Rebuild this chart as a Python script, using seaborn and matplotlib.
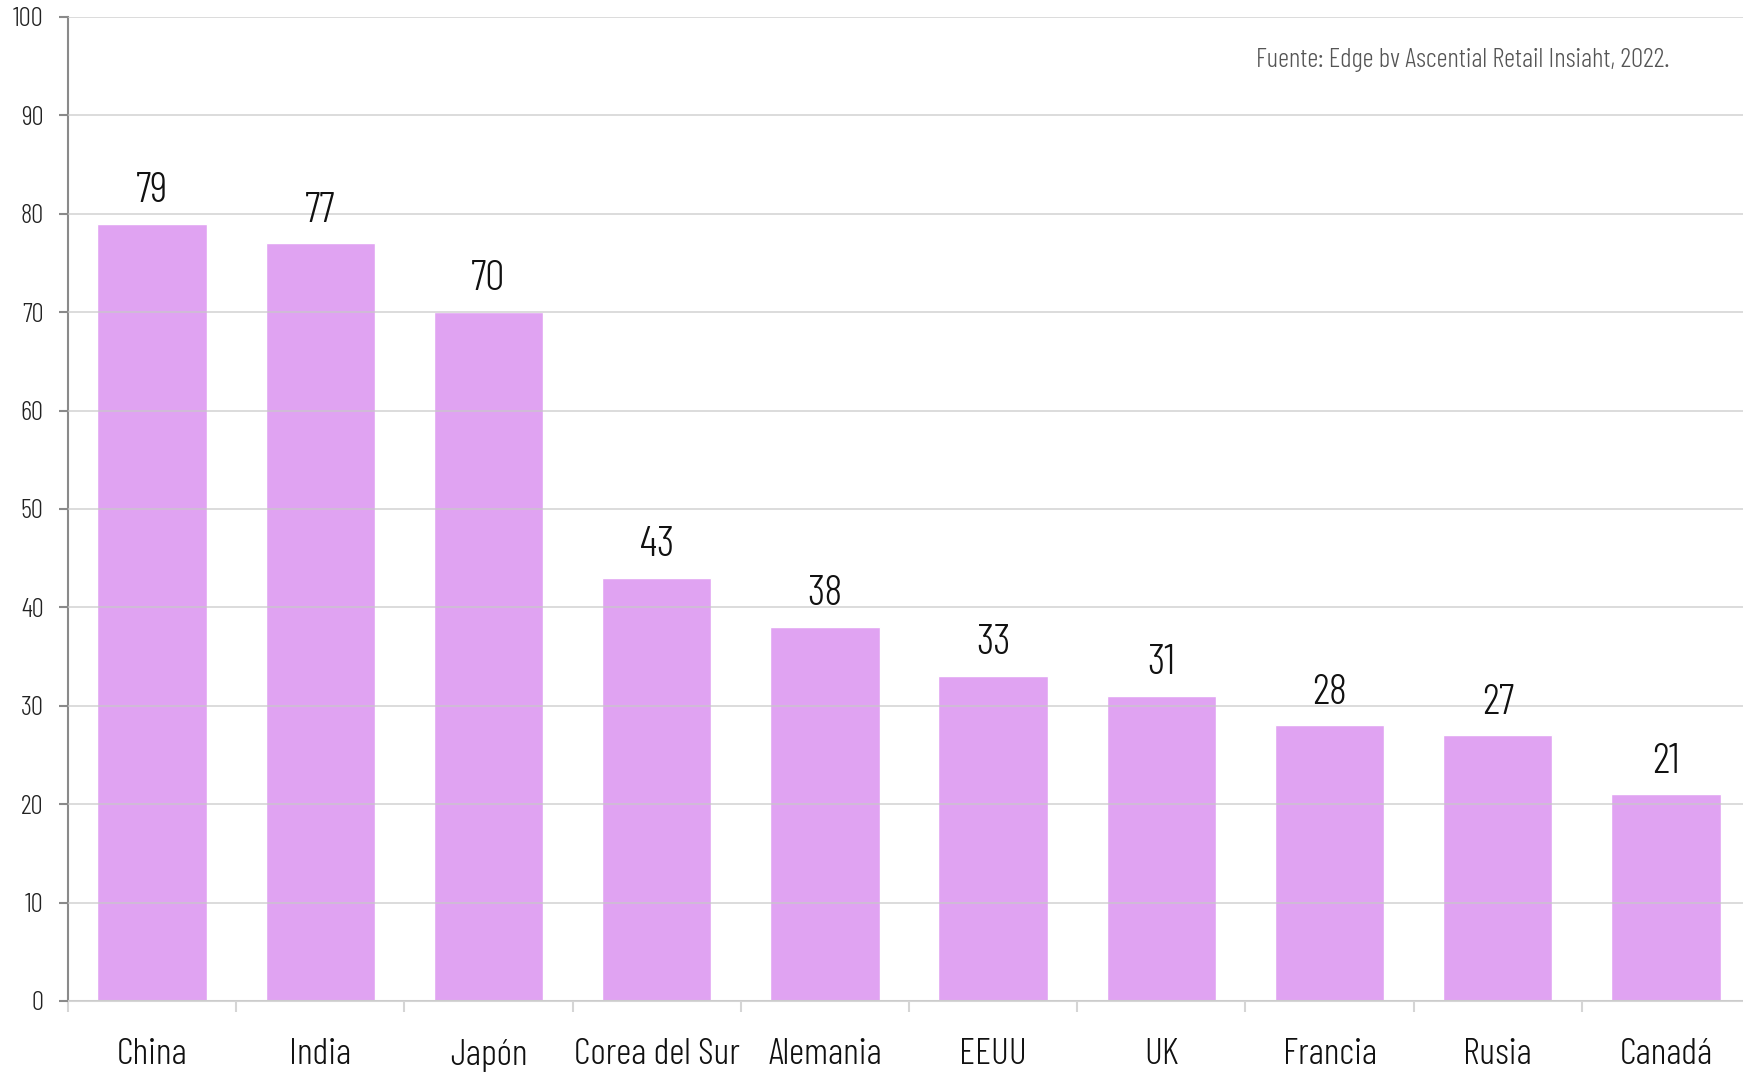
import matplotlib
matplotlib.use("Agg")
import matplotlib.pyplot as plt
import seaborn as sns
import pandas as pd

# datos
paises = ['China', 'India', 'Japón', 'Corea del Sur', 'Alemania', 'EEUU', 'UK', 'Francia', 'Rusia', 'Canadá']
valores = [79, 77, 70, 43, 38, 33, 31, 28, 27, 21]
y_ticks = [0, 10, 20, 30, 40, 50, 60, 70, 80, 90, 100]
fuente = 'Fuente: Edge bv Ascential Retail Insiaht, 2022.'

sns.set_theme(style='white')
plt.rcParams['font.family'] = ['Barlow Condensed', 'DejaVu Sans']
plt.rcParams['font.weight'] = 300

df = pd.DataFrame({'pais': paises, 'valor': valores})

fig = plt.figure(figsize=(17.43, 10.73), dpi=100)
ax = fig.add_axes([68 / 1743, 1 - 1001 / 1073, 1682 / 1743, 984 / 1073])

sns.barplot(data=df, x='pais', y='valor', color='#E0A3F2', saturation=1,
            width=0.65, ax=ax)

ax.set_xlim(-0.5, 9.5)
ax.set_ylim(0, 100)
ax.set_yticks(y_ticks)
ax.yaxis.grid(True, color='#C8C8C8', linewidth=1.3, alpha=0.7)
ax.set_axisbelow(False)

for s in ['top', 'right']:
    ax.spines[s].set_visible(False)
ax.spines['left'].set_color('#8A8A8A')
ax.spines['left'].set_linewidth(1.5)
ax.spines['bottom'].set_color('#D5D5D5')
ax.spines['bottom'].set_linewidth(1.5)

ax.tick_params(axis='y', left=True, length=6.5, width=1.5, color='#8A8A8A',
               labelsize=19.5, pad=11, labelcolor='#222222')
ax.tick_params(axis='x', bottom=False, labelsize=27, pad=21, labelcolor='#111111')
ax.set_xticks([i - 0.5 for i in range(len(paises) + 1)], minor=True)
ax.tick_params(axis='x', which='minor', bottom=True, length=8, width=1.5, color='#D5D5D5')

ax.set_xlabel('')
ax.set_ylabel('')

for i, v in enumerate(valores):
    ax.text(i, v + 1.3, str(v), ha='center', va='bottom', fontsize=31, color='#111111')

ax.text(0.952, 0.956, fuente, transform=ax.transAxes, ha='right', va='center',
        fontsize=19.5, color='#555555')

fig.savefig('out.png', dpi=100)
